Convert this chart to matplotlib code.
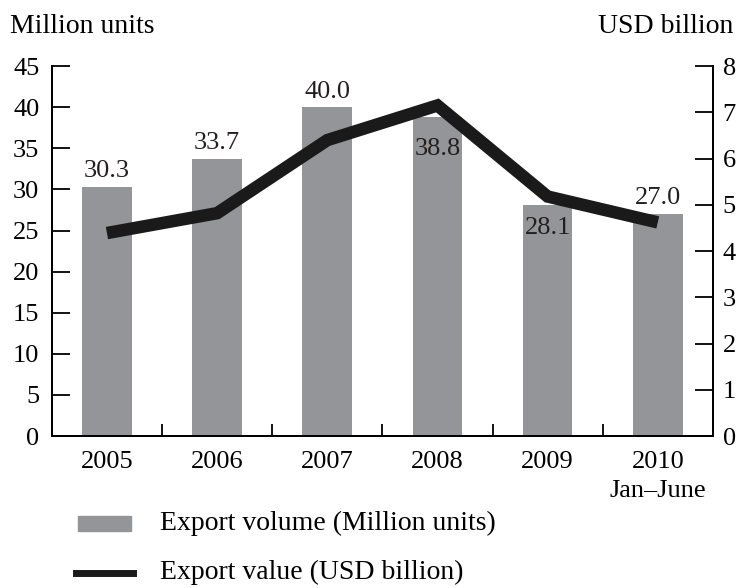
import matplotlib.pyplot as plt
import numpy as np

plt.rcParams['font.family'] = ['Liberation Serif', 'DejaVu Serif']

years = ["2005", "2006", "2007", "2008", "2009", "2010\nJan\u2013June"]
volume = [30.3, 33.7, 40.0, 38.8, 28.1, 27.0]
value = [4.39, 4.82, 6.40, 7.15, 5.18, 4.62]
# where each bar label sits (left-axis units, label centre)
label_y = [32.2, 35.6, 41.9, 34.9, 25.3, 28.9]

x = np.arange(len(years))
fs = 19

fig = plt.figure(figsize=(7.41, 5.88), dpi=100)
ax = fig.add_axes([0.070, 0.2585, 0.892, 0.629])
ax2 = ax.twinx()

ax.bar(x, volume, width=0.45, color="#939598", zorder=1)
ax2.plot(x, value, color="#1a1a1a", linewidth=9, solid_joinstyle="miter",
         solid_capstyle="butt", zorder=3)

for xi, v, ly in zip(x, volume, label_y):
    ax.text(xi, ly, f"{v:.1f}", ha="center", va="center", fontsize=fs, color="#231f20")

ax.set_xlim(-0.5, 5.5)
ax.set_ylim(0, 45)
ax2.set_ylim(0, 8)
ax.set_yticks(np.arange(0, 46, 5))
ax2.set_yticks(np.arange(0, 9, 1))

ax.set_xticks(x)
ax.set_xticklabels(years, fontsize=fs, linespacing=1.4)
ax.set_xticks(np.arange(0.5, 5.5, 1), minor=True)
ax.tick_params(axis="x", which="major", length=0, pad=11)
ax.tick_params(axis="x", which="minor", direction="in", length=9, width=1.3)
ax.tick_params(axis="y", direction="in", length=13, width=1.3, labelsize=fs, pad=9)
ax2.tick_params(axis="y", direction="in", length=13, width=1.3, labelsize=fs, pad=7)

for a in (ax, ax2):
    a.spines["top"].set_visible(False)
    for s in ("left", "right", "bottom"):
        a.spines[s].set_linewidth(1.4)
ax.set_zorder(0)
ax2.set_zorder(1)
ax2.patch.set_visible(False)

fig.text(0.013, 0.955, "Million units", fontsize=20, ha="left", va="center")
fig.text(0.99, 0.955, "USD billion", fontsize=20, ha="right", va="center")

# legend
fig.patches.append(plt.Rectangle((0.105, 0.097), 0.072, 0.025, transform=fig.transFigure,
                                 color="#939598"))
fig.lines.append(plt.Line2D([0.103, 0.179], [0.026, 0.026], transform=fig.transFigure,
                            color="#1a1a1a", linewidth=5))
fig.text(0.216, 0.109, "Export volume (Million units)", fontsize=20, va="center")
fig.text(0.216, 0.026, "Export value (USD billion)", fontsize=20, va="center")

plt.savefig("out.png", dpi=100)
